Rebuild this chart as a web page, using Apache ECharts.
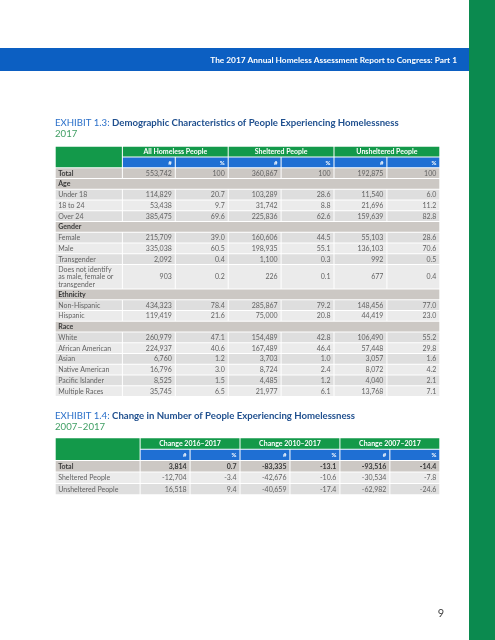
<!DOCTYPE html>
<html><head><meta charset="utf-8">
<script src="https://cdn.jsdelivr.net/npm/echarts@6/dist/echarts.min.js"></script>
<style>html,body{margin:0;padding:0;background:#fff}#c{width:495px;height:640px}</style>
</head><body><div id="c"></div>
<script>
// ---------- DATA ----------
const t1Groups = ['All Homeless People', 'Sheltered People', 'Unsheltered People'];
const t1Rows = ['Total', 'Age', 'Under 18', '18 to 24', 'Over 24', 'Gender', 'Female', 'Male', 'Transgender',
  'Does not identify\nas male, female or\ntransgender', 'Ethnicity', 'Non-Hispanic', 'Hispanic', 'Race',
  'White', 'African American', 'Asian', 'Native American', 'Pacific Islander', 'Multiple Races'];
const t1Sections = ['Age', 'Gender', 'Ethnicity', 'Race'];
const allNum   = [553742, null, 114829, 53438, 385475, null, 215709, 335038, 2092, 903, null, 434323, 119419, null, 260979, 224937, 6760, 16796, 8525, 35745];
const allPct   = [100, null, 20.7, 9.7, 69.6, null, 39.0, 60.5, 0.4, 0.2, null, 78.4, 21.6, null, 47.1, 40.6, 1.2, 3.0, 1.5, 6.5];
const shelNum  = [360867, null, 103289, 31742, 225836, null, 160606, 198935, 1100, 226, null, 285867, 75000, null, 154489, 167489, 3703, 8724, 4485, 21977];
const shelPct  = [100, null, 28.6, 8.8, 62.6, null, 44.5, 55.1, 0.3, 0.1, null, 79.2, 20.8, null, 42.8, 46.4, 1.0, 2.4, 1.2, 6.1];
const unshNum  = [192875, null, 11540, 21696, 159639, null, 55103, 136103, 992, 677, null, 148456, 44419, null, 106490, 57448, 3057, 8072, 4040, 13768];
const unshPct  = [100, null, 6.0, 11.2, 82.8, null, 28.6, 70.6, 0.5, 0.4, null, 77.0, 23.0, null, 55.2, 29.8, 1.6, 4.2, 2.1, 7.1];

const t2Groups = ['Change 2016\u20132017', 'Change 2010\u20132017', 'Change 2007\u20132017'];
const t2Rows = ['Total', 'Sheltered People', 'Unsheltered People'];
const ch1617Num = [3814, -12704, 16518];
const ch1617Pct = [0.7, -3.4, 9.4];
const ch1017Num = [-83335, -42676, -40659];
const ch1017Pct = [-13.1, -10.6, -17.4];
const ch0717Num = [-93516, -30534, -62982];
const ch0717Pct = [-14.4, -7.8, -24.6];
const subHeads = ['#', '%'];

// ---------- STYLE ----------
const C = {
  side: '#0b8a4f', bar: '#0c5fc2', green: '#13994a', blue: '#1f6fd3',
  strong: '#ccc8c4', dark: '#dedede', light: '#ebebeb',
  txt: '#636363', bold: '#3a3a3a', title: '#1f4f8e', exh: '#2a6fc9', sub: '#3f9e63'
};
const FONT = 'Lato, "Open Sans", sans-serif';
const fmtN = v => v.toLocaleString('en-US');
const fmtP = v => (v === 100 ? '100' : v.toFixed(1));

function buildTable(cfg) {
  const cells = [];
  const colStart = [0, cfg.labelW];
  for (let i = 1; i <= 6; i++) colStart.push(cfg.labelW + i);
  const width = cfg.labelW + 6;
  cells.push({ d: [0, 0, cfg.labelW, 2], fill: C.green });
  cfg.groups.forEach((g, gi) => {
    cells.push({ d: [colStart[1 + gi * 2], 0, colStart[3 + gi * 2], 1], fill: C.green, text: g, align: 'center', color: '#fff', weight: 'bold' });
    for (let k = 0; k < 2; k++) {
      const ci = 1 + gi * 2 + k;
      cells.push({ d: [colStart[ci], 1, colStart[ci + 1], 2], fill: C.blue, text: subHeads[k], align: 'right', color: '#fff', weight: 'bold', size: 6 });
    }
  });
  let y = 2, alt = 0;
  cfg.rows.forEach((r, ri) => {
    const h = cfg.rowH[ri];
    if (cfg.sections.includes(r)) {
      cells.push({ d: [0, y, width, y + h], fill: C.strong, text: r, align: 'left', color: C.bold, weight: 'bold' });
      alt = 0;
    } else {
      const isTotal = r === 'Total';
      const fill = isTotal ? C.strong : (alt % 2 === 0 ? (cfg.firstDark ? C.dark : C.light) : (cfg.firstDark ? C.light : C.dark));
      if (!isTotal) alt++;
      cells.push({ d: [0, y, cfg.labelW, y + h], fill, text: r, align: 'left', color: isTotal ? C.bold : C.txt, weight: isTotal ? 'bold' : 'normal' });
      cfg.cols.forEach((arr, ci) => {
        const v = arr[ri];
        const text = ci % 2 === 0 ? fmtN(v) : fmtP(v);
        const bw = isTotal && cfg.boldTotal;
        cells.push({ d: [colStart[ci + 1], y, colStart[ci + 2], y + h], fill, text, align: 'right', color: bw ? C.bold : C.txt, weight: bw ? 'bold' : 'normal' });
      });
    }
    y += h;
  });
  return { cells, width, height: y };
}

const t1 = buildTable({
  labelW: 1.27, rows: t1Rows, groups: t1Groups, sections: t1Sections, firstDark: true, boldTotal: false,
  rowH: t1Rows.map(r => r.indexOf('\n') >= 0 ? 2.26 : 1),
  cols: [allNum, allPct, shelNum, shelPct, unshNum, unshPct]
});
const t2 = buildTable({
  labelW: 1.70, rows: t2Rows, groups: t2Groups, sections: [], firstDark: false, boldTotal: true,
  rowH: t2Rows.map(() => 1),
  cols: [ch1617Num, ch1617Pct, ch1017Num, ch1017Pct, ch0717Num, ch0717Pct]
});

function renderer(cells) {
  return function (params, api) {
    const c = cells[params.dataIndex];
    const p0 = api.coord([api.value(0), api.value(1)]);
    const p1 = api.coord([api.value(2), api.value(3)]);
    const x = p0[0], y = p0[1], w = p1[0] - p0[0] - 1, h = p1[1] - p0[1] - 1;
    const ch = [{ type: 'rect', shape: { x, y, width: w, height: h }, style: { fill: c.fill } }];
    if (c.text) {
      const tx = c.align === 'left' ? x + 2.5 : c.align === 'right' ? x + w - 3 : x + w / 2;
      ch.push({ type: 'text', style: {
        text: c.text, x: tx, y: y + h / 2 + 0.3, align: c.align, verticalAlign: 'middle',
        fill: c.color, fontFamily: FONT, fontSize: c.size || 7, fontWeight: c.weight, lineHeight: 7.4
      } });
    }
    return { type: 'group', children: ch };
  };
}

const chart = echarts.init(document.getElementById('c'), null, { renderer: 'canvas' });
const axisOff = { show: false };
chart.setOption({
  animation: false,
  grid: [
    { left: 55.7, top: 146.7, width: 384.6, height: 250.3 },
    { left: 55.7, top: 438.3, width: 384.6, height: 57 }
  ],
  xAxis: [
    { type: 'value', gridIndex: 0, min: 0, max: t1.width, ...axisOff },
    { type: 'value', gridIndex: 1, min: 0, max: t2.width, ...axisOff }
  ],
  yAxis: [
    { type: 'value', gridIndex: 0, min: 0, max: t1.height, inverse: true, ...axisOff },
    { type: 'value', gridIndex: 1, min: 0, max: t2.height, inverse: true, ...axisOff }
  ],
  series: [
    { type: 'custom', xAxisIndex: 0, yAxisIndex: 0, renderItem: renderer(t1.cells), data: t1.cells.map(c => c.d), silent: true },
    { type: 'custom', xAxisIndex: 1, yAxisIndex: 1, renderItem: renderer(t2.cells), data: t2.cells.map(c => c.d), silent: true }
  ],
  graphic: [
    { type: 'rect', shape: { x: 469, y: 0, width: 26, height: 640 }, style: { fill: C.side }, silent: true },
    { type: 'rect', shape: { x: 0, y: 48, width: 469, height: 23 }, style: { fill: C.bar }, silent: true },
    { type: 'text', style: { text: 'The 2017 Annual Homeless Assessment Report to Congress: Part 1', x: 457, y: 60, align: 'right', verticalAlign: 'middle', fill: '#fff', fontFamily: FONT, fontSize: 8.3, fontWeight: 'bold' } },
    { type: 'text', style: { text: '{a|EXHIBIT 1.3: }{b|Demographic Characteristics of People Experiencing Homelessness}', x: 55, y: 123, verticalAlign: 'middle',
      rich: { a: { fill: C.exh, fontFamily: FONT, fontSize: 9.6 }, b: { fill: C.title, fontFamily: FONT, fontSize: 9.6, fontWeight: 'bold' } } } },
    { type: 'text', style: { text: '2017', x: 55, y: 133.5, verticalAlign: 'middle', fill: C.sub, fontFamily: FONT, fontSize: 9.6 } },
    { type: 'text', style: { text: '{a|EXHIBIT 1.4: }{b|Change in Number of People Experiencing Homelessness}', x: 55, y: 416, verticalAlign: 'middle',
      rich: { a: { fill: C.exh, fontFamily: FONT, fontSize: 9.6 }, b: { fill: C.title, fontFamily: FONT, fontSize: 9.6, fontWeight: 'bold' } } } },
    { type: 'text', style: { text: '2007\u20132017', x: 55, y: 426.5, verticalAlign: 'middle', fill: C.sub, fontFamily: FONT, fontSize: 9.6 } },
    { type: 'text', style: { text: '9', x: 441, y: 613, align: 'center', verticalAlign: 'middle', fill: '#444', fontFamily: FONT, fontSize: 11 } }
  ]
});
</script></body></html>
